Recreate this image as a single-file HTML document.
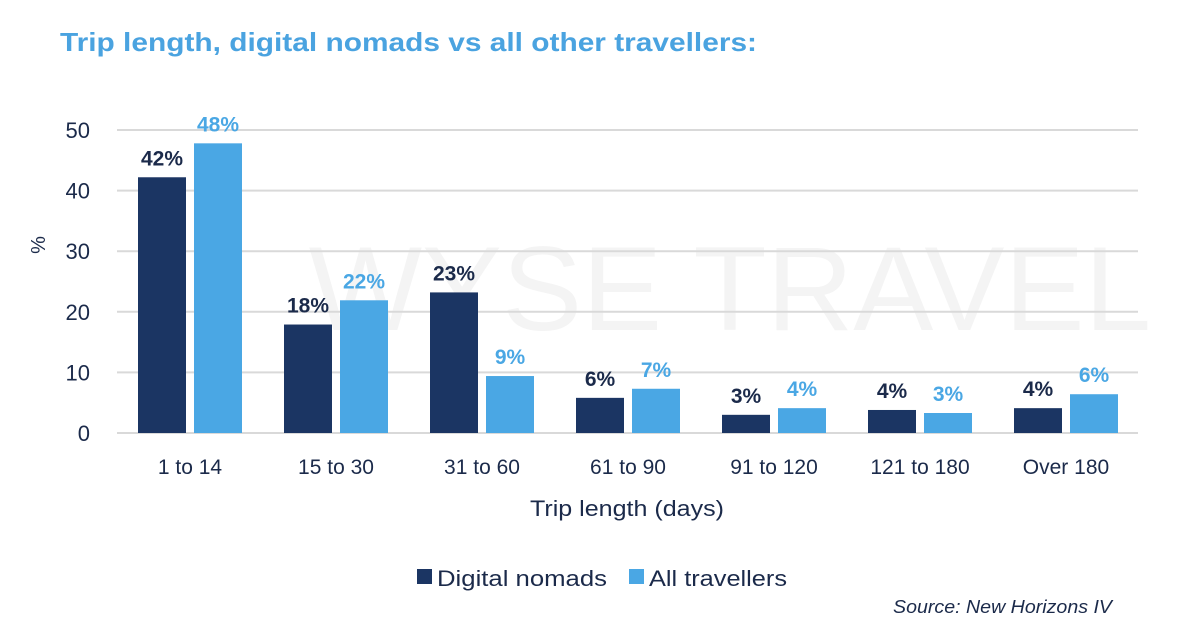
<!DOCTYPE html>
<html><head><meta charset="utf-8"><style>
body{margin:0;background:#fff;}
svg{display:block;font-family:"Liberation Sans",sans-serif;}
</style></head><body>
<svg id="chart" width="1200" height="633" viewBox="0 0 1200 633">
<text x="60" y="51" font-size="26" font-weight="bold" fill="#4aa3e0" textLength="697" lengthAdjust="spacingAndGlyphs">Trip length, digital nomads vs all other travellers:</text>
<text x="730" y="330" font-size="120" fill="#f4f4f4" text-anchor="middle">WYSE TRAVEL</text>
<g id="grid"></g><g id="bars"></g><g id="labels"></g>
<text transform="translate(45,245) rotate(-90)" font-size="20" fill="#1b2a4a" text-anchor="middle">%</text>
<text x="530" y="516" font-size="22" fill="#1b2a4a" textLength="194" lengthAdjust="spacingAndGlyphs">Trip length (days)</text>
<g>
<rect x="417" y="569" width="15" height="15" fill="#1b3563"/>
<text x="437" y="586" font-size="22" fill="#1b2a4a" textLength="170" lengthAdjust="spacingAndGlyphs">Digital nomads</text>
<rect x="629" y="569" width="15" height="15" fill="#4aa7e4"/>
<text x="649" y="586" font-size="22" fill="#1b2a4a" textLength="138" lengthAdjust="spacingAndGlyphs">All travellers</text>
</g>
<text x="893" y="613" font-size="18" font-style="italic" fill="#1b2a4a" textLength="219" lengthAdjust="spacingAndGlyphs">Source: New Horizons IV</text>
</svg>
<script>
const categories=["1 to 14","15 to 30","31 to 60","61 to 90","91 to 120","121 to 180","Over 180"];
const nomads=[42.2,17.9,23.2,5.8,3.0,3.8,4.1];
const allTravellers=[47.8,21.9,9.4,7.3,4.1,3.3,6.4];
const nomadLabels=["42%","18%","23%","6%","3%","4%","4%"];
const allLabels=["48%","22%","9%","7%","4%","3%","6%"];
const yTicks=[0,10,20,30,40,50];
const NS="http://www.w3.org/2000/svg";
const y0=433,yTop=130,xL=117,xR=1138;
function y(v){return y0-(v/50)*(y0-yTop);}
function cx(i){return 190+i*146;}
function mk(tag,attrs,parent){const e=document.createElementNS(NS,tag);for(const k in attrs)e.setAttribute(k,attrs[k]);parent.appendChild(e);return e;}
const grid=document.getElementById('grid'),bars=document.getElementById('bars'),labels=document.getElementById('labels');
yTicks.forEach(t=>{
 const l=mk('line',{x1:xL,x2:xR,y1:y(t),y2:y(t),stroke:'#d9d9d9','stroke-width':2},grid);
 
 
 const tx=mk('text',{x:90,y:y(t)+8,'font-size':22,fill:'#1b2a4a','text-anchor':'end'},grid);
 tx.textContent=t;
 
 
});
categories.forEach((c,i)=>{
 const c0=cx(i);
 const b1=mk('rect',{x:c0-52,y:y(nomads[i]),width:48,height:y0-y(nomads[i]),fill:'#1b3563'},bars);
 
 
 const b2=mk('rect',{x:c0+4,y:y(allTravellers[i]),width:48,height:y0-y(allTravellers[i]),fill:'#4aa7e4'},bars);
 
 
 const t1=mk('text',{x:c0-28,y:y(nomads[i])-12,'font-size':21,'font-weight':'bold',fill:'#1b2a4a','text-anchor':'middle'},labels);
 t1.textContent=nomadLabels[i];
 
 
 const t2=mk('text',{x:c0+28,y:y(allTravellers[i])-12,'font-size':21,'font-weight':'bold',fill:'#4aa7e4','text-anchor':'middle'},labels);
 t2.textContent=allLabels[i];
 
 
 const ct=mk('text',{x:c0,y:474,'font-size':21,fill:'#1b2a4a','text-anchor':'middle'},labels);
 ct.textContent=c;
 
 
});
</script>
</body></html>
